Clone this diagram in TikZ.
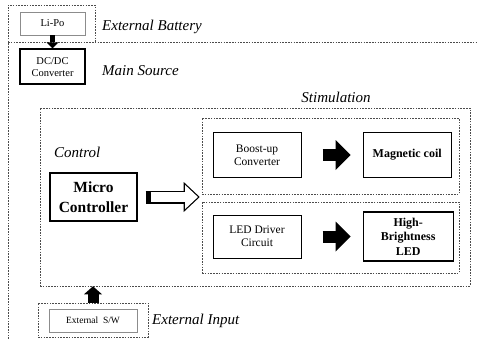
\documentclass[tikz,border=0pt]{standalone}
\usepackage{fontspec}
\setmainfont{Liberation Serif}
\usetikzlibrary{arrows.meta, positioning, calc}

\tikzset{
  region/.style={draw=black!70, dash pattern=on 1.6pt off 1.2pt, line width=0.6pt},
  graybox/.style={draw=black!45, line width=0.9pt, fill=white, align=center,
    font=\fontsize{10.5}{12}\selectfont},
  thinbox/.style={draw, line width=1pt, align=center, font=\fontsize{11.5}{13}\selectfont},
  boldbox/.style={draw, line width=1.4pt, align=center, font=\fontsize{12}{14.5}\selectfont\bfseries},
  tag/.style={font=\fontsize{15}{17}\selectfont\itshape, anchor=west, inner sep=0pt},
  fatarrow/.style={line width=12pt, -{Triangle[length=15pt,width=30pt,line width=0pt]}},
}

\begin{document}
\begin{tikzpicture}[x=1pt, y=-1pt]
\useasboundingbox (0,0) rectangle (478,339);

% supply
\node[graybox, minimum width=65pt, minimum height=23pt] (lipo) at (52.5,23.5) {Li-Po};
\node[thinbox, line width=1.3pt, font=\fontsize{10.5}{12}\selectfont,
      minimum width=65pt, minimum height=35pt, below=13pt of lipo] (dcdc) {DC/DC\\Converter};
\node[tag] (battag) at (102,27) {External Battery};
\node[tag] (srctag) at (102,71) {Main Source};

\draw[region] (8,339) -- (8,5) -- (95,5) -- (95,42);
\draw[region] (8,42) -- (478,42);

% frames
\node[region, minimum width=430pt, minimum height=178pt] (ctrl) at (255,197) {};
\node[region, minimum width=257pt, minimum height=76pt] (stimup) at (330.5,156) {};
\node[region, minimum width=257pt, minimum height=71pt] (stimlo) at (330.5,237.5) {};
\node[region, minimum width=110pt, minimum height=34pt] (inbox) at (93,320) {};

\node[tag] (ctltag) at (54,152) {Control};
\node[tag, anchor=center] (stimtag) at (336,97) {Stimulation};
\node[tag] (intag) at (152,321) {External Input};

% blocks
\node[boldbox, font=\fontsize{15.5}{20}\selectfont\bfseries,
      minimum width=87pt, minimum height=48pt] (mcu) at (93.5,197) {Micro\\Controller};
\node[thinbox, minimum width=88pt, minimum height=44pt] (boost) at (257,155) {Boost-up\\Converter};
\node[boldbox, minimum width=88pt, minimum height=45pt, right=61pt of boost] (coil) {Magnetic coil};
\node[thinbox, minimum width=88pt, minimum height=43pt] (leddrv) at (257,236.5) {LED Driver\\Circuit};
\node[boldbox, minimum width=90pt, minimum height=49pt, right=61pt of leddrv] (hbled) {High-\\Brightness\\LED};
\node[graybox, font=\fontsize{9.5}{11}\selectfont,
      minimum width=88pt, minimum height=23pt] (sw) at (93,320.5) {External\ \ S/W};

% arrows
\draw[line width=4.5pt, -{Triangle[length=6pt,width=12pt,line width=0pt]}] (lipo) -- (dcdc);
\draw[fatarrow, shorten <=21pt, shorten >=12pt] (boost) -- (coil);
\draw[fatarrow, shorten <=21pt, shorten >=12pt] (leddrv) -- (hbled);
\draw[line width=11pt, -{Triangle[length=8pt,width=18pt,line width=0pt]}]
  (inbox.north) -- (inbox.north |- ctrl.south);
%
\draw[line width=13pt, -{Triangle[length=16pt,width=30pt,line width=0pt]},
  shorten <=8pt, shorten >=2pt] (mcu.east) -- (mcu.east -| stimup.west);
\draw[white, line width=10.5pt, -{Triangle[length=12.9pt,width=24.2pt,line width=0pt]},
  shorten <=13pt, shorten >=3.8pt] (mcu.east) -- (mcu.east -| stimup.west);
\end{tikzpicture}
\end{document}
